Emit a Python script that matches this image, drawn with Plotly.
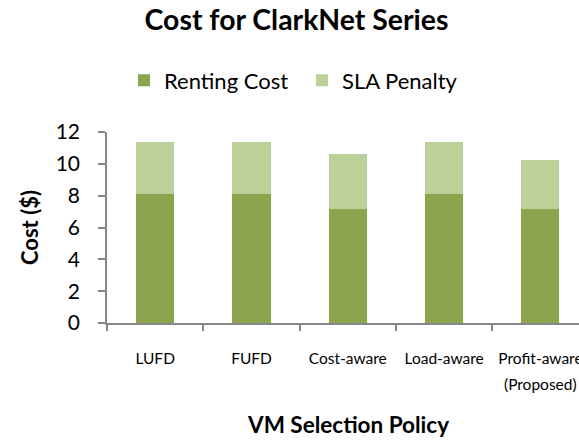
import plotly.graph_objects as go

categories = ["LUFD", "FUFD", "Cost-aware", "Load-aware", "Profit-aware (Proposed)"]
tick_labels = ["LUFD", "FUFD", "Cost-aware", "Load-aware", "Profit-aware"]
label_note = "(Proposed)"
renting_cost = [8.10, 8.10, 7.16, 8.10, 7.16]
sla_penalty = [3.25, 3.25, 3.48, 3.25, 3.11]
y_ticks = [0, 2, 4, 6, 8, 10, 12]

DARK = "#8AA54E"
LIGHT = "#BCD09A"
AXIS = "#878787"
FONT = "Lato, Open Sans, sans-serif"

fig = go.Figure()
fig.add_trace(go.Bar(name="Renting Cost", x=categories, y=renting_cost,
                     marker=dict(color=DARK, line=dict(width=0)), width=0.395))
fig.add_trace(go.Bar(name="SLA Penalty", x=categories, y=sla_penalty,
                     marker=dict(color=LIGHT, line=dict(width=0)), width=0.395))

fig.update_layout(
    width=579, height=440,
    barmode="stack",
    paper_bgcolor="white", plot_bgcolor="white",
    margin=dict(l=107, r=0, t=132, b=117, autoexpand=False),
    font=dict(family=FONT, color="#000000"),
    title=dict(text="<b>Cost for ClarkNet Series</b>", font=dict(size=28.4, family=FONT),
               x=296.5/579, xanchor="center", xref="container",
               y=1-20.5/440, yanchor="middle", yref="container"),
    showlegend=True,
    legend=dict(orientation="h", xref="container", yref="container",
                x=124/579, xanchor="left", y=1-80.5/440, yanchor="middle",
                font=dict(size=22, family=FONT), traceorder="normal",
                entrywidth=133, entrywidthmode="pixels",
                itemsizing="constant", bgcolor="rgba(0,0,0,0)"),
    xaxis=dict(type="category", range=[-0.5, 4.40], showline=True, linecolor=AXIS,
               linewidth=1.5, ticks="outside", tickson="boundaries", ticklen=6,
               tickcolor=AXIS, tickwidth=1.5, showgrid=False, zeroline=False,
               tickvals=categories, ticktext=tick_labels,
               tickfont=dict(size=15.5, family=FONT), ticklabelstandoff=21,
               automargin=False),
    yaxis=dict(range=[0, 12], tickvals=y_ticks, showline=True, linecolor=AXIS,
               linewidth=1.5, ticks="outside", ticklen=7, tickcolor=AXIS, tickwidth=1.5,
               showgrid=False, zeroline=False, tickfont=dict(size=21, family=FONT),
               ticklabelstandoff=14, automargin=False,
               title=dict(text="<b>Cost ($)</b>", font=dict(size=22, family=FONT), standoff=11)),
    annotations=[
        dict(text=label_note, xref="x", yref="paper", x=categories[4],
             y=-(384-323.3)/191.6, xanchor="center", yanchor="middle",
             showarrow=False, font=dict(size=15.5, family=FONT)),
        dict(text="<b>VM Selection Policy</b>", xref="paper", yref="paper",
             x=(347.5-107)/472, y=-(425-323.3)/191.6, xanchor="center", yanchor="middle",
             showarrow=False, font=dict(size=22.5, family=FONT)),
    ],
)

fig.write_html("out.html", config={"displayModeBar": False},
               post_script="document.body.style.margin='0';document.body.style.overflow='hidden';")
